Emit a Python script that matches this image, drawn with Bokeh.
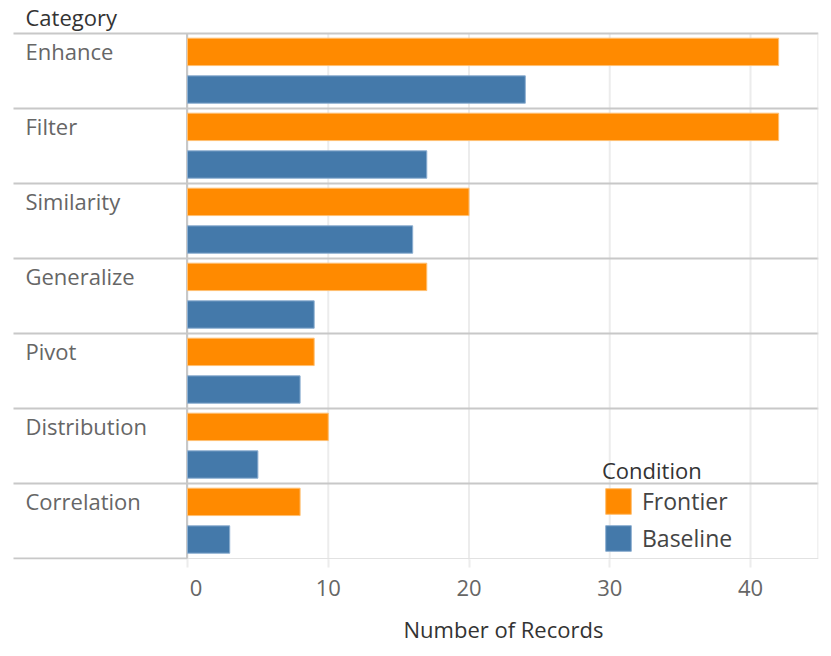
from bokeh.plotting import figure
from bokeh.models import (Range1d, FixedTicker, Legend, LegendItem, Title,
                          ColumnDataSource)
from bokeh.core.properties import value
from bokeh.embed import file_html
from bokeh.resources import INLINE

# ---- data ----
categories = ["Enhance", "Filter", "Similarity", "Generalize", "Pivot",
              "Distribution", "Correlation"]
frontier = [42, 42, 20, 17, 9, 10, 8]
baseline = [24, 17, 16, 9, 8, 5, 3]
x_ticks = [0, 10, 20, 30, 40]
conditions = ["Frontier", "Baseline"]
colors = ["#FF8A00", "#4479AA"]
edge_colors = ["#FFBE70", "#8CAED0"]

# ---- geometry (pixels) ----
W, H = 831, 656
PX = 14.075            # px per record
ROW = 75.0             # px per category row
ZERO_X = 187           # screen x of value 0
ROWS_TOP = 33          # screen y of first row boundary
FRAME_RIGHT = 818
FRAME_BOTTOM = 559
n = len(categories)

FONT = "Open Sans"

x_start = -ZERO_X / PX
x_end = (FRAME_RIGHT - ZERO_X) / PX
y_top = -ROWS_TOP / ROW
y_bottom = (FRAME_BOTTOM - ROWS_TOP) / ROW

p = figure(width=W, height=H, output_backend="svg", toolbar_location=None,
           x_range=Range1d(x_start, x_end), y_range=Range1d(y_bottom, y_top),
           y_axis_location=None,
           min_border_left=0, min_border_right=W - FRAME_RIGHT,
           min_border_top=0, min_border_bottom=H - FRAME_BOTTOM)
p.background_fill_color = "white"
p.border_fill_color = "white"
p.outline_line_color = None
p.xgrid.grid_line_color = None
p.ygrid.grid_line_color = None

# vertical gridlines at the x ticks
p.segment(x0=x_ticks, x1=x_ticks, y0=[0] * len(x_ticks),
          y1=[y_bottom + 0.05] * len(x_ticks),
          line_color="#ececec", line_width=2)

# row separators
label_left = (13 - ZERO_X) / PX
bounds = list(range(n + 1))
p.segment(x0=[label_left] * n, x1=[x_end] * n, y0=bounds[:-1], y1=bounds[:-1],
          line_color="#c8c8c8", line_width=2)
p.segment(x0=[label_left], x1=[0], y0=[n], y1=[n],
          line_color="#c8c8c8", line_width=2)
p.segment(x0=[0], x1=[x_end], y0=[n], y1=[n],
          line_color="#e2e2e2", line_width=1)
# right border and the vertical rule at zero
p.segment(x0=[x_end - 0.5 / PX], x1=[x_end - 0.5 / PX], y0=[0], y1=[n],
          line_color="#e2e2e2", line_width=1)
p.segment(x0=[-0.5 / PX], x1=[-0.5 / PX], y0=[0], y1=[n],
          line_color="#c8c8c8", line_width=2)

idx = list(range(n))
src = ColumnDataSource(dict(
    cat=categories,
    fy=[i + 0.245 for i in idx],
    by=[i + 0.747 for i in idx],
    ly=[i + 0.035 for i in idx],
    lx=[(25 - ZERO_X) / PX] * n,
    frontier=frontier,
    baseline=baseline,
))

r_f = p.hbar(y="fy", left=0, right="frontier", height=0.365, source=src,
             fill_color=colors[0], line_color=edge_colors[0], line_width=1)
r_b = p.hbar(y="by", left=0, right="baseline", height=0.365, source=src,
             fill_color=colors[1], line_color=edge_colors[1], line_width=1)

# category labels and header
p.text(x="lx", y="ly", text="cat", source=src, text_font=value(FONT),
       text_font_size="22px", text_color="#666666",
       text_baseline="top", text_align="left")
p.text(x=[(25 - ZERO_X) / PX], y=[(1 - ROWS_TOP) / ROW], text=["Category"],
       text_font=value(FONT), text_font_size="22px", text_color="#333333",
       text_baseline="top", text_align="left")

# x axis
xa = p.xaxis[0]
xa.ticker = FixedTicker(ticks=x_ticks)
xa.major_label_overrides = {0: "\u00a0\u00a0\u00a00"}
xa.axis_line_color = None
xa.major_tick_in = 0
xa.major_tick_out = 8
xa.major_tick_line_color = "#ececec"
xa.major_tick_line_width = 2
xa.minor_tick_line_color = None
xa.major_label_standoff = 4
xa.major_label_text_font = FONT
xa.major_label_text_font_size = "22px"
xa.major_label_text_color = "#666666"

# axis title, left-aligned with an offset so it centres over the value axis
p.add_layout(Title(text="Number of Records", align="left", offset=403,
                   standoff=15, text_font=FONT, text_font_size="22px",
                   text_font_style="normal", text_color="#333333"), "below")

legend = Legend(items=[LegendItem(label=conditions[0], renderers=[r_f]),
                       LegendItem(label=conditions[1], renderers=[r_b])],
                title="Condition", location=(602 - 0, FRAME_BOTTOM - 554),
                glyph_width=32, glyph_height=32, label_height=32,
                label_standoff=8, spacing=5, padding=0, margin=0,
                border_line_color=None, background_fill_alpha=0,
                label_text_font=FONT, label_text_font_size="23px",
                label_text_color="#444444",
                title_text_font=FONT, title_text_font_size="22px",
                title_text_color="#333333", title_text_font_style="normal")
try:
    legend.title_standoff = -2
except Exception:
    legend.title_standoff = 0
p.add_layout(legend)

open("out.html", "w").write(file_html(p, INLINE))
